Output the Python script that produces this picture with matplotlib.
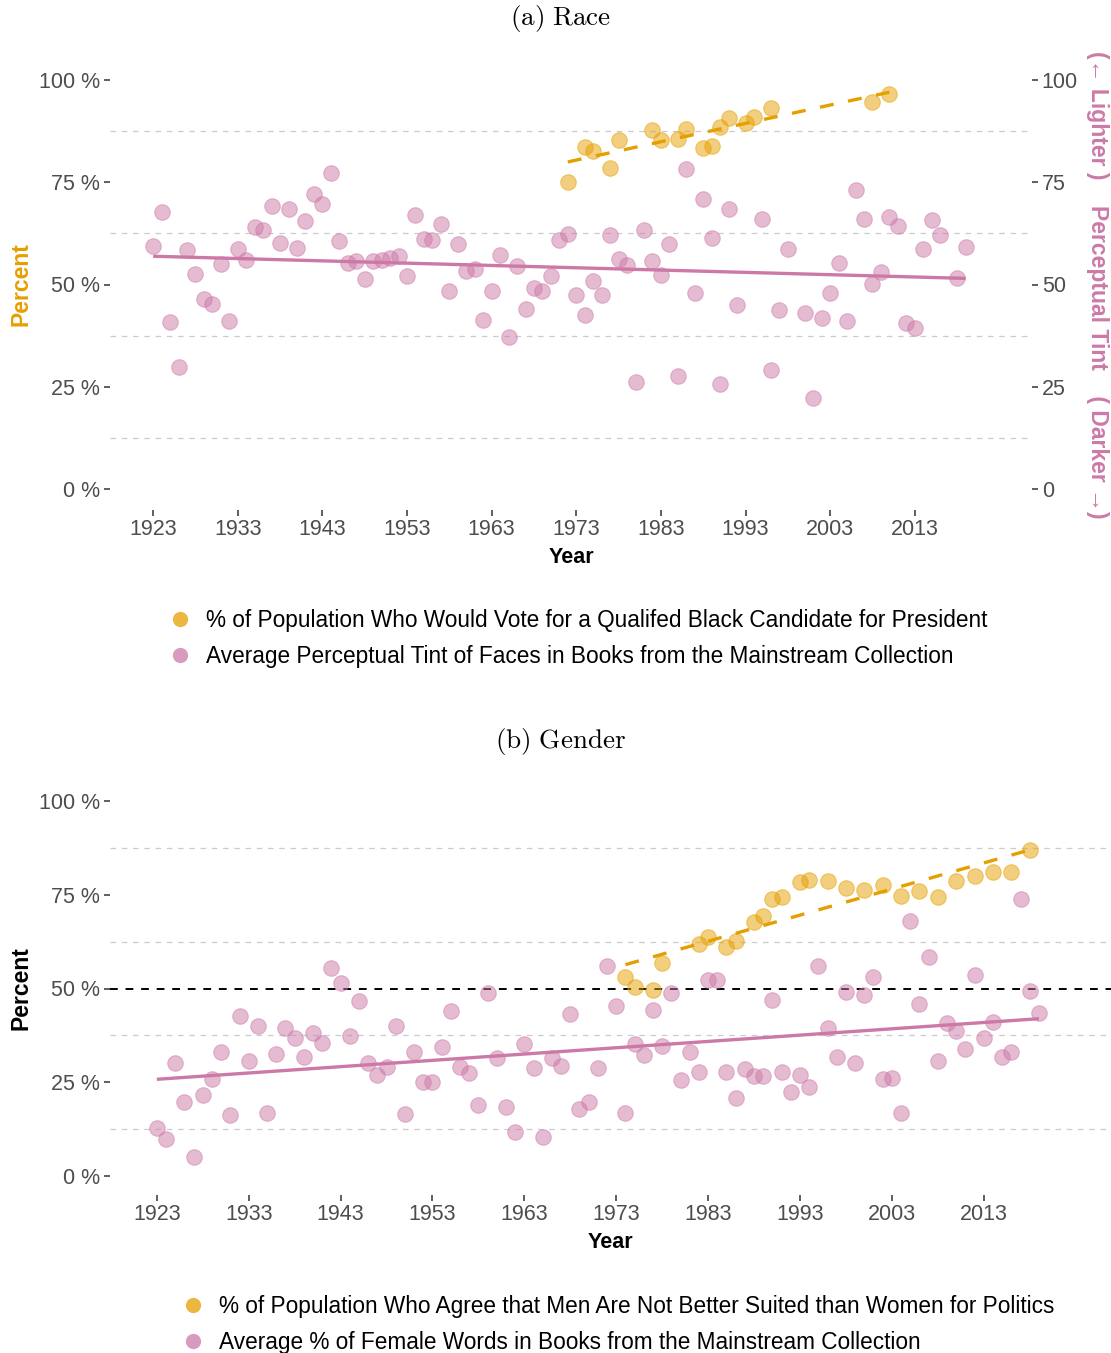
import numpy as np
import matplotlib
matplotlib.use("Agg")
import matplotlib.pyplot as plt
from matplotlib.lines import Line2D

# ---------------- data ----------------
race_tint_years = [1923, 1924, 1925, 1926, 1927, 1928, 1929, 1930, 1931, 1932, 1933, 1934, 1935, 1936,
                   1937, 1938, 1939, 1940, 1941, 1942, 1943, 1944, 1945, 1946, 1947, 1948, 1949, 1950,
                   1951, 1952, 1953, 1954, 1955, 1956, 1957, 1958, 1959, 1960, 1961, 1962, 1963, 1964,
                   1965, 1966, 1967, 1968, 1969, 1970, 1971, 1972, 1973, 1974, 1975, 1976, 1977, 1978,
                   1979, 1980, 1981, 1982, 1983, 1984, 1985, 1986, 1987, 1988, 1989, 1990, 1991, 1992,
                   1995, 1996, 1997, 1998, 2000, 2001, 2002, 2003, 2004, 2005, 2006, 2007, 2008, 2009,
                   2010, 2011, 2012, 2013, 2014, 2015, 2016, 2018, 2019]
race_tint_values = [59.4, 67.8, 40.8, 29.9, 58.4, 52.6, 46.4, 45.2, 55.0, 41.1, 58.6, 56.0, 64.0, 63.2,
                    69.2, 60.1, 68.4, 59.0, 65.6, 72.1, 69.7, 77.2, 60.7, 55.2, 55.7, 51.4, 55.7, 56.0,
                    56.6, 56.9, 52.1, 66.9, 61.2, 60.8, 64.7, 48.5, 59.9, 53.2, 53.9, 41.2, 48.4, 57.3,
                    37.2, 54.5, 44.1, 49.2, 48.4, 52.1, 60.8, 62.4, 47.4, 42.6, 50.8, 47.4, 62.2, 56.2,
                    54.8, 26.2, 63.3, 55.7, 52.2, 59.9, 27.6, 78.3, 48.0, 70.9, 61.4, 25.7, 68.4, 44.9,
                    66.1, 29.2, 43.8, 58.6, 43.0, 22.2, 41.8, 47.9, 55.3, 41.0, 73.1, 65.9, 50.2, 53.1,
                    66.4, 64.2, 40.6, 39.4, 58.6, 65.8, 62.0, 51.6, 59.2]

race_vote_years = [1972, 1974, 1975, 1977, 1978, 1982, 1983, 1985, 1986, 1988, 1989, 1990, 1991,
                   1993, 1994, 1996, 2008, 2010]
race_vote_values = [75.1, 83.7, 82.6, 78.5, 85.3, 87.8, 85.3, 85.6, 87.9, 83.3, 83.8, 88.4, 90.6,
                    89.6, 91.0, 93.1, 94.5, 96.6]

gender_words_years = list(range(1923, 2020))
gender_words_values = [12.9, 9.8, 30.1, 19.7, 5.1, 21.5, 25.9, 33.0, 16.4, 42.8, 30.7, 40.1, 16.8, 32.5,
                       39.4, 36.7, 31.7, 38.1, 35.6, 55.4, 51.4, 37.4, 46.7, 30.1, 26.9, 29.1, 40.1, 16.6,
                       33.0, 25.2, 25.2, 34.3, 44.0, 29.2, 27.6, 18.9, 48.9, 31.5, 18.5, 11.7, 35.3, 28.8,
                       10.5, 31.6, 29.3, 43.1, 18.0, 19.8, 28.8, 56.0, 45.4, 16.8, 35.2, 32.2, 44.3, 34.7,
                       48.7, 25.5, 33.1, 27.8, 52.4, 52.4, 27.8, 20.7, 28.5, 26.8, 26.8, 47.0, 27.8, 22.4,
                       27.0, 23.7, 56.0, 39.5, 31.8, 49.1, 30.2, 48.3, 53.2, 25.8, 26.2, 16.7, 68.1, 45.8,
                       58.4, 30.7, 40.8, 38.6, 33.9, 53.6, 36.9, 41.1, 31.7, 33.1, 73.8, 49.4, 43.6]

gender_pol_years = [1974, 1975, 1977, 1978, 1982, 1983, 1985, 1986, 1988, 1989, 1990, 1991, 1993,
                    1994, 1996, 1998, 2000, 2002, 2004, 2006, 2008, 2010, 2012, 2014, 2016, 2018]
gender_pol_values = [53.1, 50.3, 49.5, 56.8, 61.9, 63.7, 61.1, 62.8, 67.8, 69.3, 74.0, 74.5, 78.4,
                     78.9, 78.8, 76.8, 76.2, 77.6, 74.7, 76.1, 74.3, 78.6, 80.1, 81.1, 81.1, 86.9]

year_ticks = [1923, 1933, 1943, 1953, 1963, 1973, 1983, 1993, 2003, 2013]
pct_ticks = [0, 25, 50, 75, 100]
pct_labels = ["0 %", "25 %", "50 %", "75 %", "100 %"]
right_labels = ["0", "25", "50", "75", "100"]
minor_grid = [12.5, 37.5, 62.5, 87.5]

race_labels = ["% of Population Who Would Vote for a Qualifed Black Candidate for President",
               "Average Perceptual Tint of Faces in Books from the Mainstream Collection"]
gender_labels = ["% of Population Who Agree that Men Are Not Better Suited than Women for Politics",
                 "Average % of Female Words in Books from the Mainstream Collection"]

# ---------------- style ----------------
ORANGE = "#E69F00"
PURPLE = "#CC79A7"
TICKCOL = "#4D4D4D"

plt.rcParams["font.family"] = ["Liberation Sans", "DejaVu Sans"]

W, H = 1111, 1353
fig = plt.figure(figsize=(W / 100, H / 100), dpi=100)


def px_axes(left, top, right, bottom):
    return fig.add_axes([left / W, 1 - bottom / H, (right - left) / W, (bottom - top) / H])


XLIM = (1917.9, 2026.85)
YLIM = (-5, 105)
TICK_FS = 15.5
MS = 125


def style_axes(ax):
    ax.set_xlim(*XLIM)
    ax.set_ylim(*YLIM)
    for s in ax.spines.values():
        s.set_visible(False)
    for g in minor_grid:
        ax.axhline(g, color="#CCCCCC", lw=0.9, dashes=(4.5, 4.5), zorder=0)
    ax.set_yticks(pct_ticks)
    ax.set_yticklabels(pct_labels)
    ax.set_xticks(year_ticks)
    ax.set_xticklabels([str(y) for y in year_ticks])
    ax.tick_params(axis="both", colors="#333333", labelcolor=TICKCOL, labelsize=TICK_FS,
                   length=4, width=1.1, pad=3)
    ax.set_xlabel("Year", fontsize=15.5, fontweight="bold", labelpad=5)


def trend(ax, x, y, color, dashed):
    x = np.asarray(x, float)
    y = np.asarray(y, float)
    b, a = np.polyfit(x, y, 1)
    xs = np.array([x.min(), x.max()])
    if dashed:
        ax.plot(xs, a + b * xs, color=color, lw=2.4, dashes=(4.2, 4.4), zorder=4,
                solid_capstyle="butt", dash_capstyle="butt")
    else:
        ax.plot(xs, a + b * xs, color=color, lw=2.4, zorder=4, solid_capstyle="butt")


def points(ax, x, y, color):
    ax.scatter(x, y, s=MS, color=color, alpha=0.5, edgecolors=color, linewidths=0.8, zorder=3)


# ---------------- panel (a) ----------------
ax1 = px_axes(110, 59.5, 1032, 509.5)
style_axes(ax1)
points(ax1, race_tint_years, race_tint_values, PURPLE)
points(ax1, race_vote_years, race_vote_values, ORANGE)
trend(ax1, race_tint_years, race_tint_values, PURPLE, False)
trend(ax1, race_vote_years, race_vote_values, ORANGE, True)
ax1.set_ylabel("Percent", fontsize=16.5, fontweight="bold", color=ORANGE, labelpad=5)

ax1r = ax1.twinx()
ax1r.set_ylim(*YLIM)
ax1r.set_yticks(pct_ticks)
ax1r.set_yticklabels(right_labels)
ax1r.tick_params(axis="y", colors="#333333", labelcolor=TICKCOL, labelsize=TICK_FS,
                 length=4, width=1.1, pad=3)
for s in ax1r.spines.values():
    s.set_visible(False)
fig.text(1098 / W, 1 - 285 / H,
         "(\u2190 Lighter )    Perceptual Tint    ( Darker \u2192)",
         rotation=270, ha="center", va="center", fontsize=16.5, fontweight="bold",
         color=PURPLE)

fig.text(561 / W, 1 - 19 / H, r"$\mathrm{(a)\ Race}$", ha="center", va="center",
         fontsize=19.5, math_fontfamily="cm")

# ---------------- panel (b) ----------------
ax2 = px_axes(110, 782.25, 1111, 1194.75)
style_axes(ax2)
ax2.axhline(50, color="black", lw=1.4, dashes=(4, 4), zorder=2)
points(ax2, gender_words_years, gender_words_values, PURPLE)
points(ax2, gender_pol_years, gender_pol_values, ORANGE)
trend(ax2, gender_words_years, gender_words_values, PURPLE, False)
trend(ax2, gender_pol_years, gender_pol_values, ORANGE, True)
ax2.set_ylabel("Percent", fontsize=16.5, fontweight="bold", color="black", labelpad=5)

fig.text(561 / W, 1 - 741 / H, r"$\mathrm{(b)\ Gender}$", ha="center", va="center",
         fontsize=19.5, math_fontfamily="cm")


# ---------------- legends ----------------
def legend(labels, x_marker, y_first):
    handles = [Line2D([], [], marker="o", linestyle="", markersize=11, color=ORANGE, alpha=0.75,
                      markeredgewidth=0),
               Line2D([], [], marker="o", linestyle="", markersize=11, color=PURPLE, alpha=0.75,
                      markeredgewidth=0)]
    fig.legend(handles, labels, loc="upper left",
               bbox_to_anchor=((x_marker - 18) / W, 1 - (y_first - 16) / H),
               frameon=False, fontsize=16.3, handlelength=1.2, handletextpad=0.55,
               labelspacing=0.6, borderpad=0.3, borderaxespad=0)


legend(race_labels, 178, 618)
legend(gender_labels, 191, 1304)

fig.savefig("out.png", dpi=100)
